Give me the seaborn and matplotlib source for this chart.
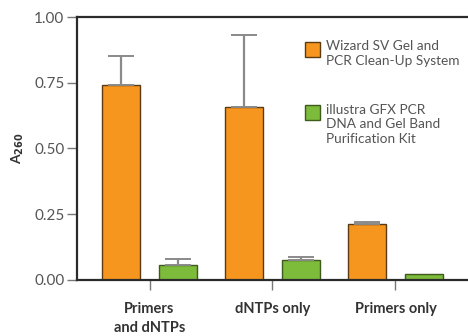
import numpy as np
import pandas as pd
import matplotlib
matplotlib.use("Agg")
import matplotlib.pyplot as plt
from matplotlib.patches import Rectangle
import seaborn as sns

# Data
categories = ["Primers\nand dNTPs", "dNTPs only", "Primers only"]
kits = ["Wizard SV Gel and\nPCR Clean-Up System",
        "illustra GFX PCR\nDNA and Gel Band\nPurification Kit"]
wizard_vals = [0.742, 0.658, 0.213]
wizard_err = [0.110, 0.275, 0.007]
gfx_vals = [0.058, 0.077, 0.023]
gfx_err = [0.020, 0.010, 0.0]

colors = ["#F7961F", "#7DBB3A"]
edges = ["#5C3A12", "#3E5A1C"]

df = pd.DataFrame({
    "category": categories * 2,
    "kit": [kits[0]] * 3 + [kits[1]] * 3,
    "value": wizard_vals + gfx_vals,
})
errs = wizard_err + gfx_err

sns.set_style("white")
plt.rcParams["font.family"] = ["Lato", "DejaVu Sans"]

fig = plt.figure(figsize=(4.68, 3.36), dpi=100)
ax = fig.add_axes([0.1645, 0.1667, 0.8355, 0.7827])

sns.barplot(data=df, x="category", y="value", hue="kit", order=categories,
            hue_order=kits, palette=colors, width=0.92, gap=0.33,
            errorbar=None, ax=ax, linewidth=1.0, saturation=1, legend=False)

# colour the edges and add the one-sided error bars
bar_containers = list(ax.containers)
for i, container in enumerate(bar_containers):
    for j, bar in enumerate(container.patches):
        bar.set_edgecolor(edges[i])
        e = errs[i * 3 + j]
        if e > 0:
            cx = bar.get_x() + bar.get_width() / 2
            ax.errorbar(cx, bar.get_height(), yerr=[[0], [e]], fmt="none",
                        ecolor="#8a8a8a", elinewidth=1.6, capsize=9.5,
                        capthick=1.4, zorder=1)

ax.set_xlim(-0.59, 2.59)
ax.set_ylim(0, 1.0)
ax.set_yticks([0, 0.25, 0.5, 0.75, 1.0])
ax.set_yticklabels(["0.00", "0.25", "0.50", "0.75", "1.00"])
ax.set_xlabel("")
ax.set_ylabel(r"A$_{\mathbf{260}}$", fontsize=10, fontweight="bold",
              color="#333333", labelpad=6)

ax.tick_params(axis="y", direction="out", length=7, width=1, color="#777777",
               labelsize=11, labelcolor="#555555", left=True, pad=2)
ax.tick_params(axis="x", direction="out", length=7, width=1, color="#777777",
               labelsize=10.5, labelcolor="#333333", bottom=True, pad=9)
for lab in ax.get_xticklabels():
    lab.set_fontweight("bold")
    lab.set_verticalalignment("top")
    lab.set_linespacing(1.4)

for side in ["left", "bottom", "top"]:
    ax.spines[side].set_color("#2b2b2b")
    ax.spines[side].set_linewidth(1.6)
ax.spines["right"].set_visible(False)

# legend: square aligned with the first line of each label
leg_tops = [0.905, 0.665]
for kit, col, ec, top in zip(kits, colors, edges, leg_tops):
    ax.add_patch(Rectangle((0.584, top - 0.057), 0.038, 0.057,
                           transform=ax.transAxes, facecolor=col,
                           edgecolor=ec, linewidth=1.0, clip_on=False))
    ax.text(0.638, top + 0.006, kit, transform=ax.transAxes, fontsize=9.8,
            color="#555555", va="top", ha="left", linespacing=1.27)

fig.savefig("out.png", dpi=100)
